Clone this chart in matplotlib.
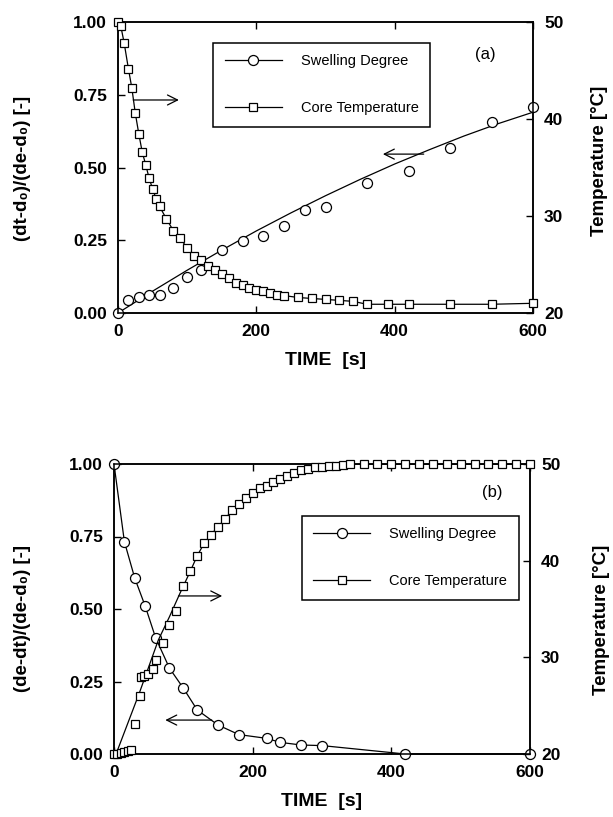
import matplotlib
matplotlib.use("Agg")
import matplotlib.pyplot as plt
from matplotlib.lines import Line2D

plt.rcParams["font.family"] = ["Liberation Sans", "DejaVu Sans"]
plt.rcParams["font.weight"] = "bold"
plt.rcParams["axes.labelweight"] = "bold"

# ---------------- panel (a): heating ----------------
a_swell_t = [0, 15, 30, 45, 60, 80, 100, 120, 150, 180, 210, 240, 270, 300,
             360, 420, 480, 540, 600]
a_swell = [0.0, 0.045, 0.056, 0.062, 0.062, 0.085, 0.125, 0.148, 0.216, 0.248,
           0.265, 0.299, 0.354, 0.364, 0.448, 0.489, 0.566, 0.658, 0.709]
a_fit_t = [0, 50, 100, 150, 200, 250, 300, 350, 400, 450, 500, 550, 600]
a_fit = [0.0, 0.075, 0.147, 0.216, 0.282, 0.344, 0.403, 0.459, 0.512, 0.561,
         0.608, 0.651, 0.690]
a_temp_t = [0, 4, 9, 15, 20, 25, 30, 35, 40, 45, 50, 55, 60, 70, 80, 90, 100,
            110, 120, 130, 140, 150, 160, 170, 180, 190, 200, 210, 220, 230,
            240, 260, 280, 300, 320, 340, 360, 390, 420, 480, 540, 600]
a_temp = [50.0, 49.6, 47.8, 45.2, 43.2, 40.6, 38.5, 36.6, 35.3, 33.9, 32.8,
          31.8, 31.0, 29.7, 28.5, 27.7, 26.7, 25.9, 25.5, 24.8, 24.4, 24.0,
          23.6, 23.1, 22.9, 22.6, 22.4, 22.3, 22.1, 21.9, 21.8, 21.6, 21.5,
          21.4, 21.3, 21.2, 20.9, 20.9, 20.9, 20.9, 20.9, 21.0]

# ---------------- panel (b): cooling ----------------
b_swell_t = [0, 15, 30, 45, 60, 80, 100, 120, 150, 180, 220, 240, 270, 300,
             420, 600]
b_swell = [1.0, 0.732, 0.606, 0.510, 0.401, 0.296, 0.227, 0.152, 0.100, 0.067,
           0.054, 0.040, 0.031, 0.029, 0.0, 0.0]
b_temp_t = [0, 5, 10, 15, 20, 25, 31, 37, 39, 43, 49, 56, 61, 71, 80, 90, 100,
            110, 120, 130, 140, 150, 160, 170, 180, 190, 200, 210, 220, 230,
            240, 250, 260, 270, 280, 290, 300, 310, 320, 330, 340, 360, 380,
            400, 420, 440, 460, 480, 500, 520, 540, 560, 580, 600]
b_temp = [20.0, 20.0, 20.1, 20.2, 20.3, 20.4, 23.1, 26.0, 28.0, 28.1, 28.3,
          28.8, 29.7, 31.5, 33.3, 34.8, 37.4, 38.9, 40.5, 41.8, 42.7, 43.5,
          44.3, 45.2, 45.9, 46.5, 47.0, 47.5, 47.7, 48.1, 48.5, 48.8, 49.1,
          49.4, 49.5, 49.7, 49.7, 49.8, 49.8, 49.9, 50.0, 50.0, 50.0, 50.0,
          50.0, 50.0, 50.0, 50.0, 50.0, 50.0, 50.0, 50.0, 50.0, 50.0]
b_fit_t = [3, 37, 64, 80, 95, 110, 120, 130, 140, 150, 160, 170, 180, 190,
           200, 220, 240, 260, 280, 300, 320, 340, 600]
b_fit = [20.0, 26.4, 31.8, 34.2, 36.6, 38.9, 40.5, 41.8, 42.7, 43.5, 44.3,
         45.2, 45.9, 46.5, 47.0, 47.7, 48.5, 49.1, 49.5, 49.7, 49.8, 50.0, 50.0]

x_ticks = [0, 200, 400, 600]
y_ticks = [0.0, 0.25, 0.5, 0.75, 1.0]
t_ticks = [20, 30, 40, 50]

W, H = 613, 817
fig = plt.figure(figsize=(W / 100, H / 100), dpi=100)

circ = dict(marker="o", ms=7.2, mfc="white", mec="black", mew=0.9)
sqr = dict(marker="s", ms=6.2, mfc="white", mec="black", mew=0.9)


def px_rect(left, top, right, bottom):
    return [left / W, 1 - bottom / H, (right - left) / W, (bottom - top) / H]


def setup(ax, ax2):
    ax.set_xlim(0, 600)
    ax.set_ylim(0, 1)
    ax2.set_ylim(20, 50)
    ax.set_xticks(x_ticks)
    ax.set_yticks(y_ticks)
    ax.set_yticklabels(["%.2f" % v for v in y_ticks])
    ax2.set_yticks(t_ticks)
    ax.tick_params(axis="both", direction="in", length=5, width=1,
                   labelsize=12.5, top=True, right=False)
    ax.tick_params(axis="y", pad=8)
    ax.tick_params(axis="x", pad=8)
    ax2.tick_params(axis="y", direction="in", length=5, width=1,
                    labelsize=12.5, pad=8)
    for sp in list(ax.spines.values()) + list(ax2.spines.values()):
        sp.set_linewidth(1.1)
    ax.set_xlabel("TIME  [s]", fontsize=14, fontweight="bold", labelpad=9)


def legend(ax, anchor):
    handles = [Line2D([], [], color="black", lw=0.9, **circ),
               Line2D([], [], color="black", lw=0.9, **sqr)]
    leg = ax.legend(handles, ["Swelling Degree", "Core Temperature"],
                    loc="upper left", bbox_to_anchor=anchor,
                    prop={"weight": "normal", "size": 10.5},
                    handlelength=3.9, handletextpad=1.3, labelspacing=2.25,
                    borderpad=0.8, borderaxespad=0, fancybox=False,
                    framealpha=1, edgecolor="black")
    leg.get_frame().set_linewidth(1.1)
    leg.set_zorder(5)


def arrow(ax, start, end):
    ax.annotate("", xy=end, xytext=start,
                arrowprops=dict(arrowstyle="->", lw=0.9, color="black",
                                mutation_scale=18, shrinkA=0, shrinkB=0))


# ---- (a) ----
ax = fig.add_axes(px_rect(118, 22, 533, 313))
ax2 = ax.twinx()
ax.plot(a_fit_t, a_fit, color="black", lw=0.9, zorder=3)
ax.plot(a_swell_t, a_swell, ls="none", zorder=4, clip_on=False, **circ)
ax2.plot(a_temp_t, a_temp, color="black", lw=0.9, zorder=4, clip_on=False,
         **sqr)
setup(ax, ax2)
legend(ax2, (0.229, 0.929))
arrow(ax, (22, 0.732), (88, 0.732))
arrow(ax, (442, 0.546), (383, 0.546))
ax2.text(0.884, 0.89, "(a)", transform=ax2.transAxes, fontsize=12,
         fontweight="normal", ha="center", va="center")

# ---- (b) ----
bx = fig.add_axes(px_rect(114, 464, 530, 754))
bx2 = bx.twinx()
bx.plot(b_swell_t, b_swell, color="black", lw=0.9, zorder=4, clip_on=False,
        **circ)
bx2.plot(b_fit_t, b_fit, color="black", lw=0.9, zorder=3)
bx2.plot(b_temp_t, b_temp, ls="none", zorder=4, clip_on=False, **sqr)
setup(bx, bx2)
legend(bx2, (0.451, 0.822))
arrow(bx, (93, 0.545), (156, 0.545))
arrow(bx, (141, 0.117), (74, 0.117))
bx2.text(0.909, 0.90, "(b)", transform=bx2.transAxes, fontsize=12,
         fontweight="normal", ha="center", va="center")

# axis titles placed in figure pixels
ylab_kw = dict(rotation=90, ha="center", va="center", fontsize=13.5,
               fontweight="bold")
fig.text(23 / W, 1 - 168 / H, "(dt-d\u2080)/(de-d\u2080) [-]", **ylab_kw)
fig.text(23 / W, 1 - 618 / H, "(de-dt)/(de-d\u2080) [-]", **ylab_kw)
fig.text(600 / W, 1 - 161 / H, "Temperature [\u00b0C]", **ylab_kw)
fig.text(601 / W, 1 - 620 / H, "Temperature [\u00b0C]", **ylab_kw)

fig.savefig("out.png", dpi=100)
